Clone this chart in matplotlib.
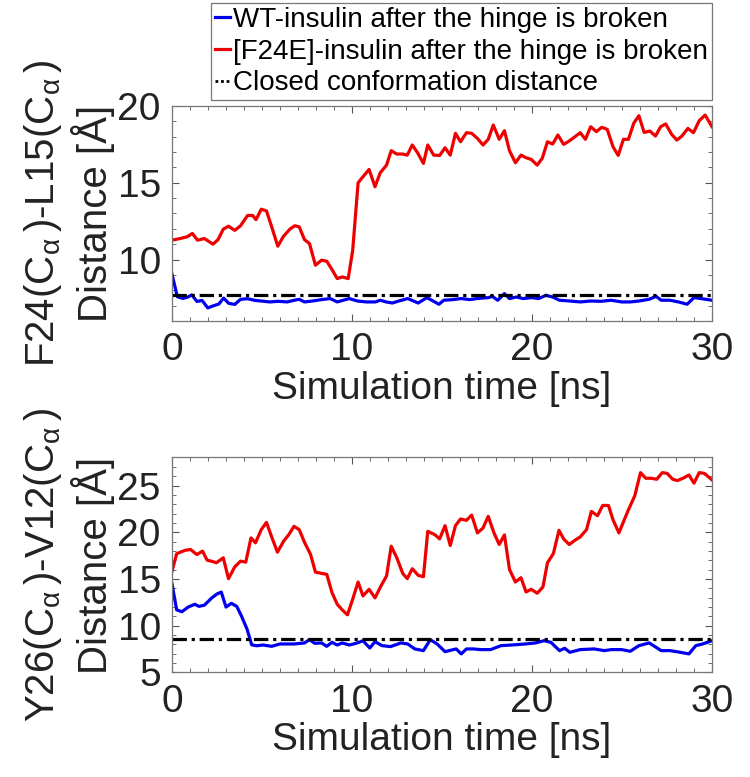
import numpy as np
import matplotlib
matplotlib.use('Agg')
import matplotlib.pyplot as plt
from matplotlib.ticker import MultipleLocator
from matplotlib.lines import Line2D

plt.rcParams['font.family'] = ['Liberation Sans', 'DejaVu Sans']
plt.rcParams['mathtext.fontset'] = 'custom'
plt.rcParams['mathtext.rm'] = 'Liberation Sans'
plt.rcParams['mathtext.it'] = 'Liberation Sans'

# panel 1: F24(Ca)-L15(Ca) distance
top_red_t = [0.0, 0.46, 0.84, 1.13, 1.42, 1.8, 2.28, 2.56, 2.85, 3.14,
             3.49, 3.81, 4.2, 4.48, 4.67, 4.96, 5.25, 5.54, 5.88, 6.2,
             6.55, 6.82, 7.07, 7.36, 7.64, 7.97, 8.31, 8.6, 8.89, 9.18,
             9.46, 9.79, 10.04, 10.34, 10.61, 10.95, 11.28, 11.57, 11.92, 12.18,
             12.49, 12.82, 13.07, 13.35, 13.64, 13.97, 14.21, 14.54, 14.87, 15.17,
             15.46, 15.75, 16.03, 16.36, 16.65, 16.97, 17.28, 17.57, 17.85, 18.18,
             18.47, 18.75, 19.08, 19.39, 19.67, 19.96, 20.29, 20.57, 20.86, 21.15,
             21.44, 21.76, 22.07, 22.39, 22.68, 22.97, 23.26, 23.58, 23.87, 24.18,
             24.5, 24.79, 25.08, 25.36, 25.65, 25.94, 26.23, 26.55, 26.86, 27.15,
             27.43, 27.76, 28.05, 28.33, 28.66, 28.97, 29.29, 29.62, 30.0]
top_red_v = [11.26, 11.37, 11.48, 11.7, 11.26, 11.37, 11.0, 11.3, 11.98, 12.17,
             11.9, 12.2, 12.87, 12.87, 12.6, 13.28, 13.17, 12.13, 10.87, 11.52,
             11.98, 12.2, 12.13, 11.3, 11.04, 9.63, 9.96, 9.89, 9.35, 8.76,
             8.87, 8.76, 10.6, 15.0, 15.39, 15.87, 14.74, 15.65, 16.15, 17.09,
             16.87, 16.87, 16.8, 17.46, 16.96, 16.26, 17.46, 16.8, 16.78, 17.28,
             16.8, 18.22, 17.67, 18.26, 18.22, 17.89, 17.46, 17.83, 18.76, 17.83,
             18.39, 17.09, 16.3, 16.8, 16.63, 16.52, 16.15, 16.59, 17.67, 17.52,
             18.11, 17.5, 17.72, 18.0, 18.26, 17.83, 18.65, 18.33, 18.61, 18.48,
             17.35, 16.78, 17.83, 17.83, 18.87, 19.37, 18.28, 18.37, 18.04, 18.65,
             18.83, 18.15, 17.78, 18.04, 18.54, 18.26, 19.04, 19.41, 18.65]
top_blue_t = [0.0, 0.3, 0.6, 0.87, 1.1, 1.39, 1.67, 1.99, 2.3, 2.6,
              2.87, 3.15, 3.49, 3.81, 4.2, 4.6, 4.96, 5.44, 5.9, 6.4,
              6.8, 7.07, 7.36, 7.8, 8.3, 8.79, 9.18, 9.85, 10.3, 10.8,
              11.3, 11.57, 11.9, 12.24, 12.6, 13.1, 13.68, 14.16, 14.6, 14.83,
              15.1, 15.59, 16.07, 16.55, 16.93, 17.57, 17.8, 18.1, 18.47, 18.75,
              19.14, 19.5, 19.98, 20.37, 20.77, 21.15, 21.53, 22.1, 22.68, 23.26,
              23.83, 24.4, 24.98, 25.46, 25.94, 26.5, 26.9, 27.18, 27.66, 28.14,
              28.62, 29.0, 29.39, 30.0]
top_blue_v = [9.05, 7.58, 7.47, 7.55, 7.7, 7.27, 7.34, 6.85, 6.99, 7.1,
              7.49, 7.15, 7.08, 7.41, 7.45, 7.34, 7.3, 7.24, 7.28, 7.24,
              7.35, 7.41, 7.24, 7.3, 7.39, 7.46, 7.24, 7.46, 7.3, 7.24,
              7.24, 7.35, 7.24, 7.17, 7.3, 7.46, 7.17, 7.52, 7.24, 7.09,
              7.35, 7.39, 7.46, 7.39, 7.46, 7.52, 7.6, 7.35, 7.78, 7.46,
              7.56, 7.46, 7.52, 7.46, 7.67, 7.56, 7.35, 7.3, 7.24, 7.3,
              7.28, 7.35, 7.24, 7.24, 7.3, 7.41, 7.6, 7.35, 7.35, 7.24,
              7.09, 7.52, 7.46, 7.35]
top_closed = 7.7

# panel 2: Y26(Ca)-V12(Ca) distance
bot_red_t = [0.0, 0.26, 0.46, 0.75, 1.03, 1.38, 1.7, 1.95, 2.2, 2.47,
             2.85, 3.14, 3.49, 3.81, 4.1, 4.39, 4.64, 4.96, 5.25, 5.54,
             5.86, 6.2, 6.49, 6.78, 7.07, 7.36, 7.7, 7.97, 8.31, 8.6,
             8.89, 9.18, 9.46, 9.75, 10.04, 10.34, 10.61, 10.95, 11.28, 11.61,
             11.92, 12.18, 12.49, 12.82, 13.07, 13.35, 13.68, 13.97, 14.21, 14.6,
             14.87, 15.17, 15.46, 15.75, 16.03, 16.36, 16.65, 16.97, 17.28, 17.57,
             17.89, 18.18, 18.47, 18.75, 19.08, 19.39, 19.67, 19.96, 20.29, 20.61,
             20.86, 21.19, 21.5, 21.76, 22.07, 22.39, 22.68, 23.03, 23.3, 23.64,
             23.93, 24.25, 24.5, 24.83, 25.13, 25.36, 25.71, 26.03, 26.32, 26.61,
             26.93, 27.24, 27.51, 27.82, 28.08, 28.39, 28.72, 29.0, 29.29, 29.58,
             30.0]
bot_red_v = [15.8, 17.7, 17.87, 18.08, 18.16, 17.62, 17.98, 17.02, 16.9, 16.74,
             17.27, 15.04, 16.31, 16.91, 16.81, 19.4, 18.87, 20.28, 21.06, 19.5,
             17.87, 19.04, 19.75, 20.64, 20.28, 18.94, 17.62, 15.74, 15.6, 15.5,
             13.55, 12.3, 11.7, 11.17, 12.84, 14.68, 13.19, 13.9, 12.98, 14.26,
             15.32, 18.51, 17.27, 15.6, 15.04, 16.1, 15.39, 15.25, 20.1, 19.75,
             19.29, 20.71, 18.58, 20.71, 21.42, 21.28, 21.84, 19.93, 20.46, 21.7,
             19.93, 18.69, 19.72, 16.03, 14.68, 15.14, 13.62, 13.9, 13.48, 14.15,
             16.74, 17.73, 20.21, 19.29, 18.69, 19.15, 19.5, 20.28, 22.23, 21.77,
             22.87, 22.87, 21.35, 19.93, 21.35, 22.41, 23.9, 26.38, 25.78, 25.78,
             25.67, 26.38, 26.3, 25.67, 25.53, 25.78, 26.13, 25.25, 26.38, 26.3,
             25.6]
bot_blue_t = [0.0, 0.26, 0.55, 0.9, 1.27, 1.5, 1.8, 2.2, 2.5, 2.74,
              3.0, 3.3, 3.6, 3.87, 4.17, 4.43, 4.7, 5.06, 5.54, 6.0,
              6.78, 7.36, 7.64, 7.93, 8.31, 8.6, 8.89, 9.18, 9.46, 9.85,
              10.23, 10.61, 10.99, 11.28, 11.67, 12.14, 12.72, 13.1, 13.49, 13.97,
              14.35, 14.73, 15.17, 15.79, 16.07, 16.36, 16.74, 17.13, 17.7, 18.28,
              18.85, 19.62, 20.19, 20.67, 21.05, 21.53, 21.82, 22.1, 22.68, 23.45,
              24.02, 24.41, 24.98, 25.46, 25.94, 26.51, 27.18, 27.66, 28.24, 28.72,
              29.1, 29.48, 30.0]
bot_blue_v = [14.5, 11.7, 11.5, 12.0, 12.3, 12.07, 12.2, 12.96, 13.4, 13.6,
              12.0, 12.4, 12.07, 11.0, 9.64, 7.96, 7.86, 7.94, 7.8, 8.05,
              8.05, 8.16, 8.51, 8.12, 8.16, 7.8, 8.23, 7.94, 8.16, 7.94,
              8.12, 8.4, 7.62, 8.3, 7.87, 7.77, 8.16, 8.05, 7.52, 7.34,
              8.51, 8.05, 7.23, 7.52, 6.99, 7.52, 7.52, 7.45, 7.45, 7.87,
              7.94, 8.05, 8.16, 8.4, 8.23, 7.34, 7.59, 7.16, 7.45, 7.52,
              7.34, 7.45, 7.45, 7.27, 7.87, 8.16, 7.34, 7.34, 7.16, 6.99,
              7.87, 8.05, 8.4]
bot_closed = 8.6

labels = ['WT-insulin after the hinge is broken',
          '[F24E]-insulin after the hinge is broken',
          'Closed conformation distance']
top_ylabel = 'F24(C$_{\\alpha}\\,$)-L15(C$_{\\alpha}\\,$)\nDistance [Å]'
bot_ylabel = 'Y26(C$_{\\alpha}\\,$)-V12(C$_{\\alpha}\\,$)\nDistance [Å]'

FS = 28
LW = 2.3
DASH = (4.5, 1.5, 1, 1.5)


def style_axes(ax, ylim, yticks):
    ax.set_xlim(0, 30)
    ax.set_ylim(*ylim)
    ax.set_xticks([0, 10, 20, 30])
    ax.set_yticks(yticks)
    ax.xaxis.set_minor_locator(MultipleLocator(1))
    ax.yaxis.set_minor_locator(MultipleLocator(1))
    ax.tick_params(which='both', direction='in', top=True, right=True,
                   colors='#555555', labelcolor='#222222', labelsize=FS)
    ax.tick_params(which='major', length=5, width=0.8, pad=8)
    ax.tick_params(which='minor', length=3, width=0.6)
    for sp in ax.spines.values():
        sp.set_color('#777777')
        sp.set_linewidth(0.9)
    ax.set_xlabel('Simulation time [ns]', fontsize=FS, color='#222222', labelpad=2)


fig = plt.figure(figsize=(7.5, 7.77), dpi=100)
ax1 = fig.add_axes([0.2293, 0.5869, 0.72, 0.2767])
ax2 = fig.add_axes([0.2293, 0.1345, 0.72, 0.2767])

h_blue, = ax1.plot(top_blue_t, top_blue_v, color='#0000ee', lw=LW)
h_red, = ax1.plot(top_red_t, top_red_v, color='#ee0000', lw=LW)
ax1.axhline(top_closed, color='black', lw=LW, dashes=DASH)
style_axes(ax1, (6, 20), [10, 15, 20])
ax1.set_ylabel(top_ylabel, fontsize=29, color='#222222', labelpad=2, linespacing=1.2)

ax2.plot(bot_blue_t, bot_blue_v, color='#0000ee', lw=LW)
ax2.plot(bot_red_t, bot_red_v, color='#ee0000', lw=LW)
ax2.axhline(bot_closed, color='black', lw=LW, dashes=DASH)
style_axes(ax2, (5, 28), [5, 10, 15, 20, 25])
ax2.set_ylabel(bot_ylabel, fontsize=29, color='#222222', labelpad=2, linespacing=1.2)

# short legend handle shows the dash-dot line as dots
h_black = Line2D([], [], color='black', lw=2, linestyle=(0, (1, 1)))
leg = fig.legend([h_blue, h_red, h_black], labels, loc='upper right',
                 bbox_to_anchor=(712 / 750, 1 - 3 / 777), borderaxespad=0,
                 fontsize=20, handlelength=0.55, handletextpad=0.1,
                 labelspacing=0.2, borderpad=0.15, fancybox=False,
                 framealpha=1, edgecolor='#777777')
leg.get_frame().set_linewidth(0.9)

plt.savefig('out.png', dpi=100)
plt.close()
